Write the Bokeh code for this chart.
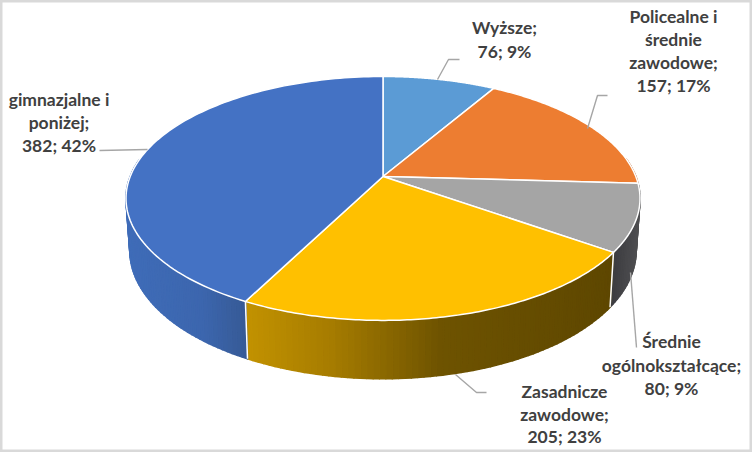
import numpy as np
from bokeh.plotting import figure
from bokeh.embed import file_html
from bokeh.resources import INLINE
from bokeh.core.properties import value

categories = ["Wyższe", "Policealne i średnie zawodowe", "Średnie ogólnokształcące",
              "Zasadnicze zawodowe", "gimnazjalne i poniżej"]
values = [76, 157, 80, 205, 382]
percent_labels = ["9%", "17%", "9%", "23%", "42%"]
label_lines = [["Wyższe;", "76; 9%"],
               ["Policealne i", "średnie", "zawodowe;", "157; 17%"],
               ["Średnie", "ogólnokształcące;", "80; 9%"],
               ["Zasadnicze", "zawodowe;", "205; 23%"],
               ["gimnazjalne i", "poniżej;", "382; 42%"]]
top_colors = ["#5B9BD5", "#ED7D31", "#A5A5A5", "#FFC000", "#4472C4"]

# label layout (page px)
label_cx = [504, 673, 671, 564, 58.5]
label_y = [[27, 51], [16, 39, 62, 85], [341, 365, 388], [391, 414, 436], [99, 122, 145]]
leaders = [([437, 448, 459], [79, 59, 59]),
           ([587, 597, 607], [128, 95, 95]),
           ([630, 636], [272, 347]),
           ([455, 476, 486], [374, 392, 392]),
           ([147, 99], [149, 150])]

# perspective pie geometry
CX, CY, K = 382.5, 176.0, 0.18
B, A = 252.8, 118.0
B2, A2, CY2 = 249.0, 124.0, 227.0


def top(t):
    u, v = np.sin(t), np.cos(t)
    d = 1 + K * v
    return CX + B * u / d, CY - A * v / d


def bottom(t):
    u, v = np.sin(t), np.cos(t)
    d = 1 + K * v
    return CX + B2 * u / d, CY2 - A2 * v / d


def lerp_color(stops, x):
    xs = [s[0] for s in stops]
    rgb = [np.interp(x, xs, [s[1][i] for s in stops]) for i in range(3)]
    return "#%02x%02x%02x" % tuple(int(round(c)) for c in rgb)


side_stops = [
    [(0, (0x5B, 0x9B, 0xD5)), (1, (0x5B, 0x9B, 0xD5))],
    [(0, (0xB0, 0x58, 0x20)), (1, (0xB0, 0x58, 0x20))],
    [(612, (0x3C, 0x3C, 0x40)), (640, (0x50, 0x50, 0x52))],
    [(245, (0xC2, 0x92, 0x00)), (330, (0xA6, 0x7C, 0x00)), (440, (0x6E, 0x53, 0x00)),
     (612, (0x5E, 0x47, 0x00))],
    [(125, (0x3F, 0x6C, 0xB8)), (200, (0x3C, 0x66, 0xAE)), (247, (0x36, 0x59, 0x94))],
]

p = figure(width=752, height=452, x_range=(0, 752), y_range=(452, 0),
           output_backend="svg", toolbar_location=None, min_border=0)
p.axis.visible = False
p.grid.visible = False
p.outline_line_color = "#D9D9D9"
p.outline_line_width = 4
p.background_fill_color = "white"
p.border_fill_color = "white"

cum = np.concatenate([[0], np.cumsum(values)]) / np.sum(values) * 2 * np.pi

# side walls, front half only
xs, ys, cs = [], [], []
for i in range(len(values)):
    n = max(int((cum[i + 1] - cum[i]) / np.radians(1.2)), 1)
    ts = np.linspace(cum[i], cum[i + 1], n + 1)
    for a, b in zip(ts[:-1], ts[1:]):
        m = (a + b) / 2
        if np.cos(m) > 0.15:
            continue
        xa, ya = top(a)
        xb, yb = top(b)
        xc, yc = bottom(b)
        xd, yd = bottom(a)
        xs.append([xa, xb, xc, xd])
        ys.append([ya, yb, yc, yd])
        cs.append(lerp_color(side_stops[i], top(m)[0]))
p.patches(xs, ys, fill_color=cs, line_color=cs, line_width=1.6, line_join="round")

# white seams between wall segments
for i in [2, 3]:
    x0, y0 = top(cum[i + 1])
    x1, y1 = bottom(cum[i + 1])
    p.line([x0, x1], [y0, y1], line_color="white", line_width=1.5)

# top faces
xs, ys = [], []
for i in range(len(values)):
    ts = np.linspace(cum[i], cum[i + 1], 120)
    x, y = top(ts)
    xs.append([CX] + list(x))
    ys.append([CY] + list(y))
p.patches(xs, ys, fill_color=top_colors, line_color="white", line_width=1.5, line_join="round")

# leader lines
for lx, ly in leaders:
    p.line(lx, ly, line_color="#A6A6A6", line_width=1.4)

# labels
tx, ty, tt = [], [], []
for cx, yy, lines in zip(label_cx, label_y, label_lines):
    for y, line in zip(yy, lines):
        tx.append(cx)
        ty.append(y)
        tt.append(line)
p.text(tx, ty, text=tt, text_align="center", text_baseline="middle",
       text_font=value("Lato"), text_font_style="bold", text_font_size="17.5px",
       text_color="#404040")

open("out.html", "w").write(file_html(p, INLINE))
